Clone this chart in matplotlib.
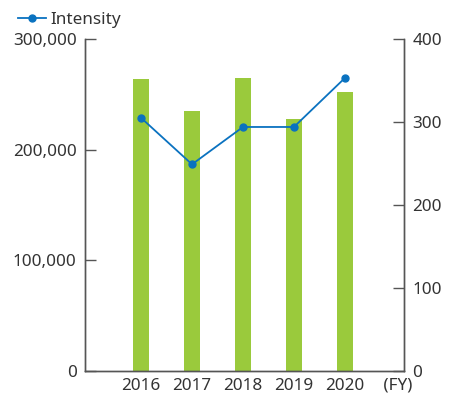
import matplotlib
matplotlib.use("Agg")
import matplotlib.pyplot as plt
from matplotlib.lines import Line2D
from matplotlib.ticker import FuncFormatter

plt.rcParams['font.family'] = ['Noto Sans', 'DejaVu Sans']

years = ["2016", "2017", "2018", "2019", "2020"]
emissions = [264000, 235000, 265000, 228000, 252000]
intensity = [305, 249, 294, 294, 353]
left_ticks = [0, 100000, 200000, 300000]
right_ticks = [0, 100, 200, 300, 400]

bar_color = "#9aca3c"
line_color = "#0a72c0"
text_color = "#333333"
axis_color = "#555555"
fs = 12.3

fig = plt.figure(figsize=(4.55, 3.96), dpi=100)
ax = fig.add_axes([85 / 455, 1 - 371 / 396, (404 - 85) / 455, (371 - 39) / 396])
x = list(range(len(years)))
ax.bar(x, emissions, width=0.31, color=bar_color, zorder=2)
ax.set_xlim(-1.1, 5.16)
ax.set_ylim(0, 300000)
ax.set_yticks(left_ticks)
ax.yaxis.set_major_formatter(FuncFormatter(lambda v, p: f"{int(v):,}"))
ax.set_xticks(x + [5])
ax.set_xticklabels(years + [" (FY)"])

ax2 = ax.twinx()
ax2.plot(x, intensity, color=line_color, lw=1.3, marker="o", ms=5, zorder=3)
ax2.set_ylim(0, 400)
ax2.set_yticks(right_ticks)
ax2.set_xlim(-1.1, 5.16)

for a in (ax, ax2):
    a.spines['top'].set_visible(False)
    for s in ('left', 'right', 'bottom'):
        a.spines[s].set_color(axis_color)
        a.spines[s].set_linewidth(1.0)
    a.tick_params(axis='y', direction='in', length=8, width=1.0, color=axis_color,
                  labelsize=fs, labelcolor=text_color, pad=6)
ax.tick_params(axis='x', length=0, labelsize=fs, labelcolor=text_color, pad=5)

handle = Line2D([], [], color=line_color, lw=1.3, marker="o", ms=5)
fig.legend([handle], ["Intensity"], loc="upper left", bbox_to_anchor=(0.025, 0.988),
           frameon=False, fontsize=fs, labelcolor=text_color, handlelength=1.6,
           handletextpad=0.3, borderaxespad=0.0)

fig.savefig("out.png", dpi=100)
